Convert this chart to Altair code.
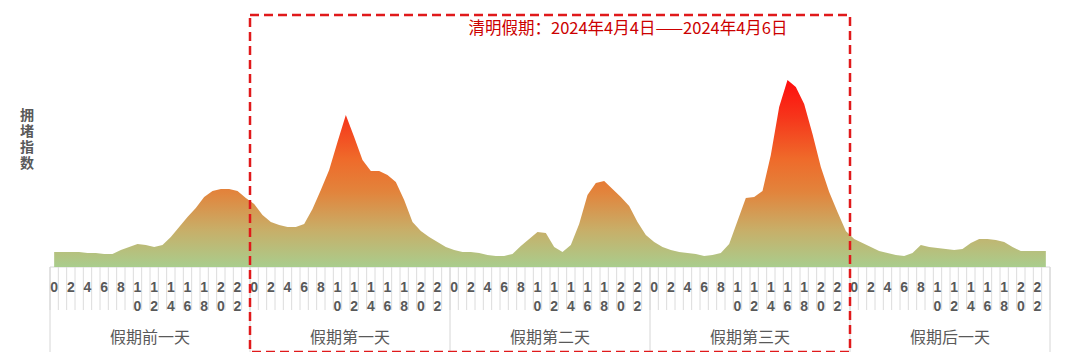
import altair as alt
import pandas as pd

# ---- data ----
days = ["假期前一天", "假期第一天", "假期第二天", "假期第三天", "假期后一天"]
hour_labels = ["0", "2", "4", "6", "8", "10", "12", "14", "16", "18", "20", "22"]

day_before = [15, 15, 15, 15, 14, 14, 13, 13, 17, 20, 23, 22, 20, 22, 30, 40, 50, 59, 70, 76, 78, 78, 76, 69]
day_one = [63, 52, 45, 42, 40, 40, 43, 58, 77, 97, 125, 152, 130, 107, 96, 96, 92, 85, 67, 45, 36, 30, 25, 20]
day_two = [17, 15, 15, 14, 12, 11, 11, 13, 21, 28, 35, 34, 20, 15, 22, 43, 72, 84, 86, 78, 70, 61, 45, 32]
day_three = [25, 20, 17, 15, 14, 13, 11, 12, 14, 23, 46, 69, 70, 76, 112, 160, 187, 180, 163, 133, 100, 75, 55, 36]
day_after = [28, 24, 20, 16, 14, 12, 11, 14, 22, 20, 19, 18, 17, 18, 24, 28, 28, 27, 25, 20, 16, 16, 16, 16]

series = [day_before, day_one, day_two, day_three, day_after]
holiday_title = "清明假期：2024年4月4日——2024年4月6日"
holiday_span = [1, 4]  # days index range (start, end-exclusive)
y_title = ["拥", "堵", "指", "数"]

# ---- tables ----
pts = []
for d, vals in enumerate(series):
    for h, v in enumerate(vals):
        pts.append({"t": d * 24 + h + 0.5, "v": v})
df = pd.DataFrame(pts)

ticks = []
for d in range(len(days)):
    for lab in hour_labels:
        h = int(lab)
        ticks.append({"t": d * 24 + h + 0.5, "top": lab[0], "bot": lab[1] if len(lab) > 1 else ""})
df_ticks = pd.DataFrame(ticks)

df_grid = pd.DataFrame({"t": list(range(0, 24 * len(days) + 1))})
df_daygrid = pd.DataFrame({"t": list(range(0, 24 * len(days) + 1, 24))})
df_days = pd.DataFrame({"t": [d * 24 + 12 for d in range(len(days))], "name": days})
df_box = pd.DataFrame({"s": [holiday_span[0] * 24], "e": [holiday_span[1] * 24]})

W, H = 1000, 252
xs = alt.Scale(domain=[0, 120], nice=False, zero=False)
X = lambda f: alt.X(f, type="quantitative", scale=xs, axis=None)

grid = alt.Chart(df_grid).mark_rule(color="#dcdcdc", strokeWidth=1).encode(
    x=X("t"), y=alt.value(H), y2=alt.value(H + 43))
daygrid = alt.Chart(df_daygrid).mark_rule(color="#d6d6d6", strokeWidth=1).encode(
    x=X("t"), y=alt.value(H), y2=alt.value(H + 86))
axisline = alt.Chart(df_box).mark_rule(color="#d9d9d9", strokeWidth=1).encode(
    x=alt.value(0), x2=alt.value(W), y=alt.value(H))

grad = alt.Gradient(
    gradient="linear", x1=0, x2=0, y1=1, y2=0,
    stops=[
        alt.GradientStop(color="#a9cd8d", offset=0),
        alt.GradientStop(color="#c8ae68", offset=0.2),
        alt.GradientStop(color="#e2843c", offset=0.4),
        alt.GradientStop(color="#ef6a2a", offset=0.58),
        alt.GradientStop(color="#f6361b", offset=0.8),
        alt.GradientStop(color="#ff0d0d", offset=1),
    ])
area = alt.Chart(df).mark_area(interpolate="linear", color=grad).encode(
    x=X("t"),
    y=alt.Y("v:Q", scale=alt.Scale(domain=[0, 252], nice=False), axis=None))

box = alt.Chart(df_box).mark_rect(fillOpacity=0, stroke="#e0191b", strokeWidth=2.5, strokeDash=[9, 5]).encode(
    x=X("s"), x2="e", y=alt.value(0), y2=alt.value(337))

title = alt.Chart(df_box).mark_text(
    text=holiday_title, font="Noto Sans CJK SC", fontSize=16.5, color="#cc0000",
    align="center", baseline="middle").encode(x=alt.value(578), y=alt.value(14))

ylab = alt.Chart(df_box).mark_text(
    text=y_title, font="Noto Sans CJK SC", fontSize=14, fontWeight="bold", color="#595959",
    align="center", baseline="middle", lineHeight=16).encode(x=alt.value(-23), y=alt.value(101))

dig1 = alt.Chart(df_ticks).mark_text(
    font="Liberation Sans", fontSize=14, fontWeight="bold", color="#595959",
    align="center", baseline="middle").encode(x=X("t"), y=alt.value(H + 21), text="top:N")
dig2 = alt.Chart(df_ticks).mark_text(
    font="Liberation Sans", fontSize=14, fontWeight="bold", color="#595959",
    align="center", baseline="middle").encode(x=X("t"), y=alt.value(H + 40), text="bot:N")

daylab = alt.Chart(df_days).mark_text(
    font="Noto Sans CJK SC", fontSize=16, color="#595959",
    align="center", baseline="middle").encode(x=X("t"), y=alt.value(H + 71), text="name:N")

chart = alt.layer(grid, daygrid, axisline, area, dig1, dig2, daylab, box, title, ylab).properties(
    width=W, height=H,
    padding={"left": 42, "top": 7, "right": 8, "bottom": 85},
    autosize=alt.AutoSizeParams(type="none"),
).configure_view(stroke=None)

chart.save("out.html", embed_options={"renderer": "svg", "actions": False})
